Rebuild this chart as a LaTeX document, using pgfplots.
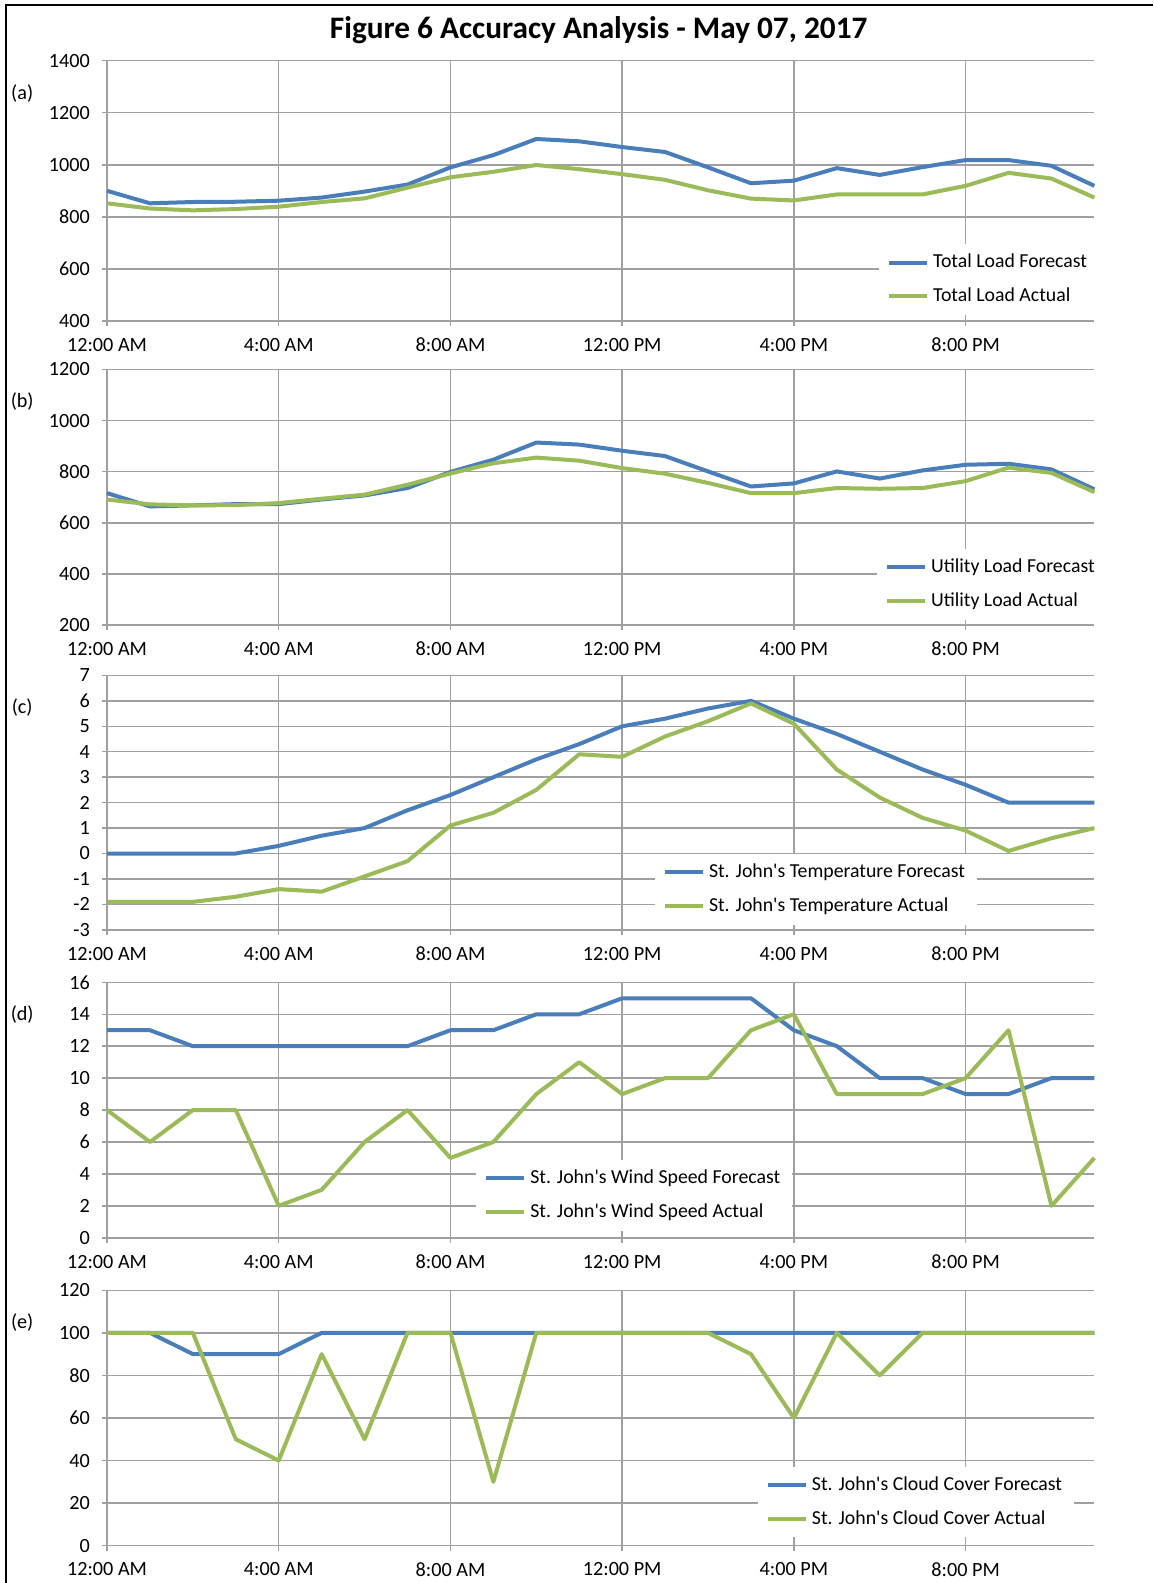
\documentclass[border=0pt]{standalone}
\usepackage{pgfplots}
\pgfplotsset{compat=1.18}
\usepackage{fontspec}
\setmainfont{Carlito}
\newfontfamily\legfont{Carlito}
\definecolor{fc}{RGB}{74,126,187}
\definecolor{ac}{RGB}{155,187,89}
\definecolor{gridc}{RGB}{160,160,160}
\pgfplotsset{panel/.style={
  scale only axis, width=493.68pt, anchor=north west,
  xmin=0, xmax=23, xtick={0,4,8,12,16,20},
  xticklabels={12:00 AM,4:00 AM,8:00 AM,12:00 PM,4:00 PM,8:00 PM},
  axis x line*=bottom, axis y line*=left,
  axis line style={gridc, line width=0.75pt, -},
  grid=major, major grid style={gridc, line width=0.75pt},
  tick align=outside, major tick length=2.52pt,
  tick style={gridc, line width=0.75pt},
  ticklabel style={font=\fontsize{10.1}{12}\selectfont, text=black},
  xticklabel style={yshift=-2.52pt},
  yticklabel style={xshift=-2.52pt},
  /pgf/number format/assume math mode=true,
  /pgf/number format/1000 sep={},
  clip=false,
  legend cell align=left,
  legend style={draw=none, fill=white, font=\legfont\fontsize{9.9}{11.6}\selectfont,
    anchor=north west, inner xsep=4pt, inner ysep=3pt, row sep=4.54pt},
  legend image code/.code={\draw[##1, line width=2pt] (0pt,0pt) -- (19.2pt,0pt);},
  every axis plot/.append style={line width=2pt, line join=round},
}}
\begin{document}
\begin{tikzpicture}
\fill[white] (0,0) rectangle (576.5pt,-791.5pt);
\draw[line width=1pt] (3pt,-791.5pt) -- (3pt,-2.5pt) -- (576.5pt,-2.5pt);
\node[font=\bfseries\fontsize{15.65}{18}\selectfont] at (299.34pt,-15.14pt) {Figure 6 Accuracy Analysis - May 07, 2017};
\node[font=\fontsize{10.1}{12}\selectfont] at (11.1pt,-46.94pt) {(a)};
\node[font=\fontsize{10.1}{12}\selectfont] at (11.1pt,-200.9pt) {(b)};
\node[font=\fontsize{10.1}{12}\selectfont] at (11.1pt,-353.85pt) {(c)};
\node[font=\fontsize{10.1}{12}\selectfont] at (11.1pt,-507.3pt) {(d)};
\node[font=\fontsize{10.1}{12}\selectfont] at (11.1pt,-661.26pt) {(e)};

% (a)
\begin{axis}[panel, at={(53.51pt,-30.29pt)}, height=130.23pt, ymin=400, ymax=1400,
  ytick={400,600,...,1400}, legend style={at={(0.7812,0.2965)}}]
\addplot[fc] table {
x y
0 900
1 852
2 857
3 858
4 862
5 874
6 897
7 924
8 990
9 1037
10 1099
11 1090
12 1068
13 1049
14 990
15 929
16 939
17 987
18 961
19 991
20 1018
21 1018
22 996
23 919
};
\addlegendentry{Total Load Forecast}
\addplot[ac] table {
x y
0 852
1 832
2 825
3 830
4 839
5 857
6 871
7 912
8 952
9 973
10 999
11 983
12 964
13 942
14 902
15 870
16 863
17 886
18 886
19 886
20 919
21 969
22 947
23 874
};
\addlegendentry{Total Load Actual}
\end{axis}

% (b)
\begin{axis}[panel, at={(53.51pt,-184.75pt)}, height=127.71pt, ymin=200, ymax=1200,
  ytick={200,400,...,1200}, legend style={at={(0.7791,0.2984)}}]
\addplot[fc] table {
x y
0 716
1 664
2 668
3 673
4 673
5 691
6 707
7 736
8 799
9 847
10 914
11 906
12 882
13 861
14 801
15 742
16 754
17 801
18 773
19 805
20 827
21 831
22 809
23 731
};
\addlegendentry{Utility Load Forecast}
\addplot[ac] table {
x y
0 691
1 672
2 668
3 669
4 677
5 694
6 710
7 749
8 793
9 833
10 855
11 843
12 814
13 792
14 756
15 716
16 716
17 736
18 733
19 736
20 763
21 816
22 795
23 720
};
\addlegendentry{Utility Load Actual}
\end{axis}

% (c)
\begin{axis}[panel, at={(53.51pt,-337.70pt)}, height=127.21pt, ymin=-3, ymax=7,
  ytick={-3,-2,...,7}, legend style={at={(0.5542,0.2995)}}]
\addplot[fc] table {
x y
0 0
1 0
2 0
3 0
4 0.3
5 0.7
6 1.0
7 1.7
8 2.3
9 3.0
10 3.7
11 4.3
12 5.0
13 5.3
14 5.7
15 6.0
16 5.3
17 4.7
18 4.0
19 3.3
20 2.7
21 2.0
22 2.0
23 2.0
};
\addlegendentry{St. John's Temperature Forecast}
\addplot[ac] table {
x y
0 -1.9
1 -1.9
2 -1.9
3 -1.7
4 -1.4
5 -1.5
6 -0.9
7 -0.3
8 1.1
9 1.6
10 2.5
11 3.9
12 3.8
13 4.6
14 5.2
15 5.9
16 5.1
17 3.3
18 2.2
19 1.4
20 0.9
21 0.1
22 0.6
23 1.0
};
\addlegendentry{St. John's Temperature Actual}
\end{axis}

% (d)
\begin{axis}[panel, at={(53.51pt,-491.16pt)}, height=127.71pt, ymin=0, ymax=16,
  ytick={0,2,...,16}, legend style={at={(0.3732,0.306)}}]
\addplot[fc] table {
x y
0 13
1 13
2 12
3 12
4 12
5 12
6 12
7 12
8 13
9 13
10 14
11 14
12 15
13 15
14 15
15 15
16 13
17 12
18 10
19 10
20 9
21 9
22 10
23 10
};
\addlegendentry{St. John's Wind Speed Forecast}
\addplot[ac] table {
x y
0 8
1 6
2 8
3 8
4 2
5 3
6 6
7 8
8 5
9 6
10 9
11 11
12 9
13 10
14 10
15 13
16 14
17 9
18 9
19 9
20 10
21 13
22 2
23 5
};
\addlegendentry{St. John's Wind Speed Actual}
\end{axis}

% (e)
\begin{axis}[panel, at={(53.51pt,-645.12pt)}, height=127.71pt, ymin=0, ymax=120,
  ytick={0,20,...,120}, legend style={at={(0.6585,0.311)}}]
\addplot[fc] table {
x y
0 100
1 100
2 90
3 90
4 90
5 100
6 100
7 100
8 100
9 100
10 100
11 100
12 100
13 100
14 100
15 100
16 100
17 100
18 100
19 100
20 100
21 100
22 100
23 100
};
\addlegendentry{St. John's Cloud Cover Forecast}
\addplot[ac] table {
x y
0 100
1 100
2 100
3 50
4 40
5 90
6 50
7 100
8 100
9 30
10 100
11 100
12 100
13 100
14 100
15 90
16 60
17 100
18 80
19 100
20 100
21 100
22 100
23 100
};
\addlegendentry{St. John's Cloud Cover Actual}
\end{axis}
\pgfresetboundingbox
\useasboundingbox (0,0) rectangle (576.5pt,-791.5pt);
\end{tikzpicture}
\end{document}
